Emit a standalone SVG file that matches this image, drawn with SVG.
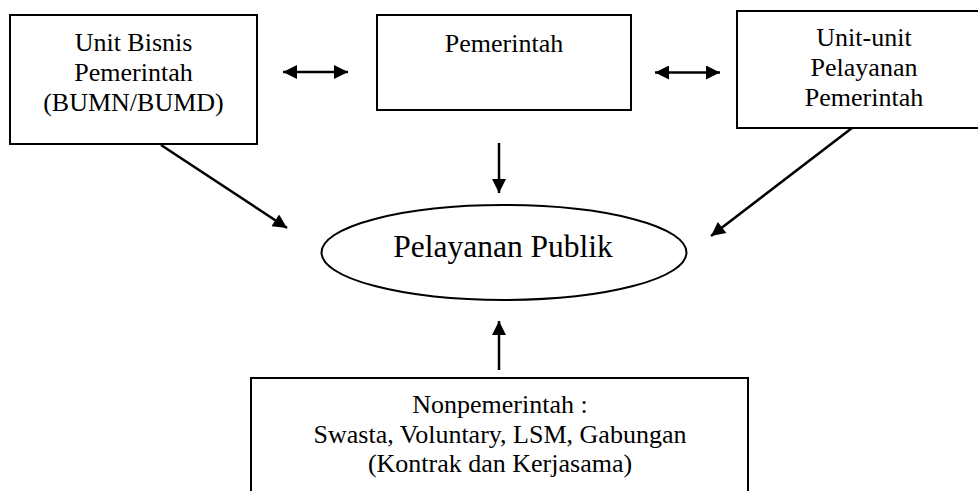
<svg xmlns="http://www.w3.org/2000/svg" width="978" height="491" viewBox="0 0 978 491">
<style>
.box{fill:#fff;stroke:#000;stroke-width:2}
.t{font-family:"Liberation Serif","Times New Roman",serif;font-size:26px;fill:#000;text-anchor:middle}
.big{font-size:31.5px}
.c{stroke:#000;stroke-width:2.5;fill:none}
</style>
<defs>
<marker id="ah" viewBox="0 0 10 10" refX="10" refY="5" markerWidth="17" markerHeight="14" markerUnits="userSpaceOnUse" orient="auto-start-reverse">
<path d="M0,0 L10,5 L0,10 z" fill="#000"/>
</marker>
</defs>
<g id="unit-bisnis">
<rect class="box" x="10" y="15" width="247" height="129"/>
<text class="t" x="133.5" y="51">Unit Bisnis</text>
<text class="t" x="133.5" y="81">Pemerintah</text>
<text class="t" x="133.5" y="111">(BUMN/BUMD)</text>
</g>
<g id="pemerintah">
<rect class="box" x="377" y="15" width="254" height="95"/>
<text class="t" x="504" y="52">Pemerintah</text>
</g>
<g id="unit-pelayanan">
<rect class="box" x="737" y="11" width="254" height="117"/>
<text class="t" x="864" y="45.5">Unit-unit</text>
<text class="t" x="864" y="75.5">Pelayanan</text>
<text class="t" x="864" y="105.5">Pemerintah</text>
</g>
<g id="pelayanan-publik">
<ellipse class="box" cx="504" cy="252.5" rx="182.5" ry="47.5"/>
<text class="t big" x="503" y="257">Pelayanan Publik</text>
</g>
<g id="nonpemerintah">
<rect class="box" x="251" y="378" width="497" height="130"/>
<text class="t" x="500" y="413">Nonpemerintah :</text>
<text class="t" x="500" y="442.5">Swasta, Voluntary, LSM, Gabungan</text>
<text class="t" x="500" y="471.5">(Kontrak dan Kerjasama)</text>
</g>
<g id="connectors">
<line class="c" x1="283" y1="72" x2="348" y2="72" marker-start="url(#ah)" marker-end="url(#ah)"/>
<line class="c" x1="655" y1="72.5" x2="720" y2="72.5" marker-start="url(#ah)" marker-end="url(#ah)"/>
<line class="c" x1="499" y1="143" x2="499" y2="193" marker-end="url(#ah)"/>
<line class="c" x1="161" y1="145" x2="287" y2="228" marker-end="url(#ah)"/>
<line class="c" x1="852" y1="128" x2="711" y2="236" marker-end="url(#ah)"/>
<line class="c" x1="499" y1="370" x2="499" y2="321" marker-end="url(#ah)"/>
</g>
</svg>
